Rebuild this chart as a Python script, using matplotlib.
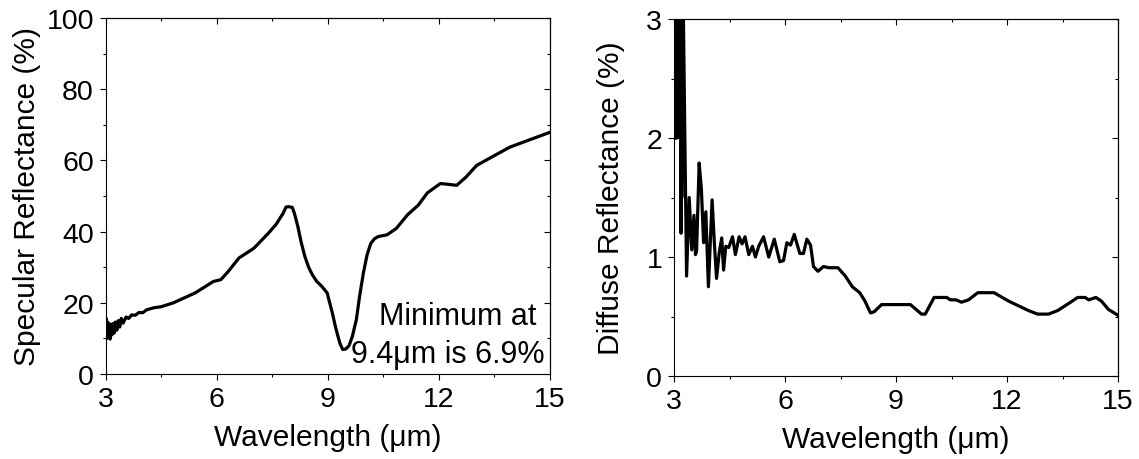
import matplotlib.pyplot as plt
from matplotlib.ticker import MultipleLocator

plt.rcParams['font.family'] = ['Liberation Sans', 'DejaVu Sans']

# specular reflectance (left panel)
spec_wl = [3.00, 3.02, 3.04, 3.06, 3.08, 3.10, 3.12, 3.14, 3.17, 3.20, 3.23, 3.26,
           3.30, 3.34, 3.38, 3.42, 3.47, 3.55, 3.62, 3.70, 3.80, 3.90, 4.00, 4.10,
           4.23, 4.30, 4.50, 4.83, 5.42, 5.91, 6.11, 6.31, 6.60, 7.00, 7.39, 7.60,
           7.79, 7.87, 7.94, 8.04, 8.10, 8.19, 8.28, 8.38, 8.48, 8.58, 8.70, 8.83,
           8.98, 9.05, 9.12, 9.20, 9.27, 9.33, 9.40, 9.48, 9.57, 9.66, 9.77, 9.86,
           9.96, 10.06, 10.16, 10.26, 10.36, 10.60, 10.85, 11.15, 11.44, 11.69,
           12.04, 12.23, 12.48, 12.73, 13.02, 13.42, 13.91, 14.40, 15.00]
spec_r = [12.0, 15.5, 10.0, 14.5, 10.5, 13.5, 9.8, 14.0, 11.0, 14.2, 11.5, 14.6,
          12.3, 15.0, 13.2, 15.6, 14.3, 16.0, 15.6, 16.6, 16.5, 17.3, 17.2, 18.0,
          18.4, 18.6, 18.9, 20.0, 22.8, 26.0, 26.5, 28.8, 32.6, 35.3, 39.5, 42.0,
          45.1, 46.9, 47.0, 46.8, 45.0, 41.4, 37.0, 33.0, 30.0, 27.9, 26.0, 24.7,
          22.8, 20.0, 17.2, 13.5, 10.7, 8.5, 6.9, 7.0, 7.9, 10.5, 15.3, 22.0,
          28.4, 33.5, 36.7, 38.0, 38.6, 39.1, 40.9, 44.7, 47.4, 50.9,
          53.5, 53.3, 53.0, 55.3, 58.6, 60.9, 63.7, 65.6, 67.9]

# diffuse reflectance (right panel)
diff_wl = [3.00, 3.01, 3.02, 3.03, 3.04, 3.05, 3.06, 3.07, 3.08, 3.09, 3.10, 3.11,
           3.12, 3.13, 3.14, 3.15, 3.16, 3.17, 3.18, 3.19, 3.20, 3.21, 3.22, 3.23,
           3.24, 3.29, 3.34, 3.41, 3.48, 3.54,
           3.58, 3.61, 3.68, 3.74, 3.80, 3.86, 3.93, 4.03, 4.09, 4.15, 4.22, 4.29,
           4.34, 4.40, 4.48, 4.58, 4.66, 4.76, 4.84, 4.92, 5.02, 5.12, 5.20, 5.29,
           5.42, 5.56, 5.71, 5.86, 5.96, 6.05, 6.15, 6.25, 6.40, 6.50, 6.59, 6.69,
           6.77, 6.89, 7.04, 7.18, 7.43, 7.63, 7.82, 8.02, 8.16, 8.31, 8.41, 8.61,
           9.00, 9.39, 9.69, 9.79, 10.03, 10.37, 10.47, 10.62, 10.77, 10.96, 11.21,
           11.65, 12.04, 12.58, 12.83, 13.12, 13.37, 13.62, 13.91, 14.11, 14.21,
           14.40, 14.55, 14.74, 15.00]
diff_r = [2.0, 3.6, 2.05, 3.7, 2.0, 3.8, 2.1, 3.6, 2.0, 3.9, 2.2, 3.7,
          2.1, 3.8, 2.3, 3.5, 2.0, 3.6, 2.1, 1.2, 3.7, 1.5, 3.6, 2.1,
          3.4, 2.08, 0.84, 1.5, 1.06, 1.35,
          1.02, 1.05, 1.79, 1.57, 1.12, 1.38, 0.75, 1.48, 1.12, 0.82, 1.03, 1.16,
          0.89, 1.09, 1.08, 1.17, 1.02, 1.17, 1.11, 1.17, 1.02, 1.09, 1.00, 1.09,
          1.17, 1.00, 1.15, 0.96, 0.97, 1.12, 1.10, 1.19, 1.03, 1.03, 1.15, 1.10,
          0.92, 0.88, 0.92, 0.91, 0.91, 0.84, 0.75, 0.70, 0.63, 0.53, 0.54, 0.60,
          0.60, 0.60, 0.52, 0.52, 0.66, 0.66, 0.64, 0.64, 0.62, 0.64, 0.70,
          0.70, 0.63, 0.55, 0.52, 0.52, 0.55, 0.60, 0.66, 0.66, 0.64,
          0.66, 0.63, 0.56, 0.51]

W, H = 1139, 460
fig = plt.figure(figsize=(W / 100, H / 100), dpi=100)

TICK_FS = 20.5
LABEL_FS = 21.5


def style(ax, ymax, ystep):
    ax.set_xlim(3, 15)
    ax.set_ylim(0, ymax)
    ax.xaxis.set_major_locator(MultipleLocator(3))
    ax.xaxis.set_minor_locator(MultipleLocator(1.5))
    ax.yaxis.set_major_locator(MultipleLocator(ystep))
    ax.yaxis.set_minor_locator(MultipleLocator(ystep / 2))
    ax.tick_params(which='major', direction='out', length=4.5, width=0.8,
                   labelsize=TICK_FS, pad=4)
    ax.tick_params(which='minor', direction='out', length=2.3, width=0.8)
    for s in ax.spines.values():
        s.set_linewidth(0.8)
    # top / right ticks point inwards
    top = ax.secondary_xaxis('top')
    top.xaxis.set_major_locator(MultipleLocator(3))
    top.xaxis.set_minor_locator(MultipleLocator(1.5))
    top.tick_params(which='major', direction='in', length=4.5, width=0.8, labeltop=False)
    top.tick_params(which='minor', direction='in', length=2.3, width=0.8)
    right = ax.secondary_yaxis('right')
    right.yaxis.set_major_locator(MultipleLocator(ystep))
    right.yaxis.set_minor_locator(MultipleLocator(ystep / 2))
    right.tick_params(which='major', direction='in', length=4.5, width=0.8, labelright=False)
    right.tick_params(which='minor', direction='in', length=2.3, width=0.8)
    ax.set_xlabel('Wavelength (μm)', fontsize=LABEL_FS, labelpad=8)


ax1 = fig.add_axes([105.7 / W, (H - 375) / H, 444.3 / W, 356 / H])
ax1.plot(spec_wl, spec_r, color='black', lw=2.3)
style(ax1, 100, 20)
ax1.set_ylabel('Specular Reflectance (%)', fontsize=LABEL_FS, labelpad=4)
ax1.text(14.64, 14.0, 'Minimum at', ha='right', va='baseline', fontsize=22)
ax1.text(14.86, 3.3, '9.4μm is 6.9%', ha='right', va='baseline', fontsize=22)

ax2 = fig.add_axes([674 / W, (H - 377) / H, 444 / W, 357 / H])
ax2.plot(diff_wl, diff_r, color='black', lw=2.3)
style(ax2, 3, 1)
ax2.set_ylabel('Diffuse Reflectance (%)', fontsize=LABEL_FS, labelpad=15)

fig.savefig('out.png', dpi=100)
